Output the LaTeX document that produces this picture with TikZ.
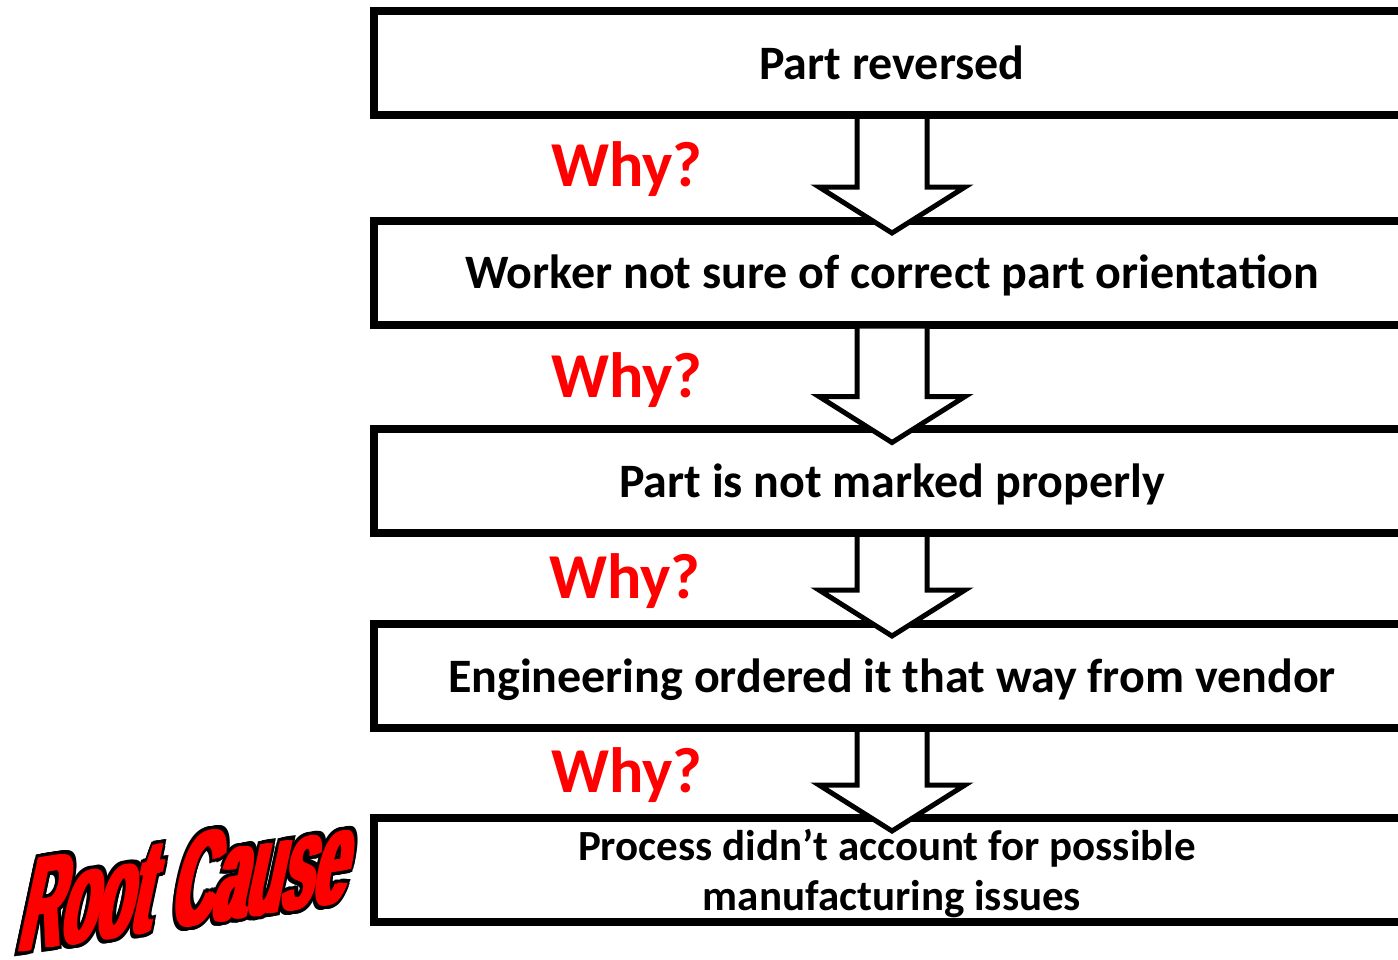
\documentclass[tikz,border=0pt]{standalone}
\usepackage{fontspec}
\setmainfont{Carlito}
\newfontfamily\rcfont{Liberation Sans}
\usetikzlibrary{calc}
\definecolor{whyred}{RGB}{255,0,0}
\newcommand\rcshift[3]{\makebox[0pt][l]{\hspace*{#1}\raisebox{#2}{\textcolor{#3}{Root\hspace{10pt} Cause}}}}
\newcommand\blockarrow[2]{%
  \coordinate (#1tl) at ($(#1.south)+(-35,0)$);
  \coordinate (#1tr) at ($(#1.south)+(35,0)$);
  \coordinate (#1sl) at ($(#1.south)+(-35,#2)$);
  \coordinate (#1sr) at ($(#1.south)+(35,#2)$);
  \coordinate (#1wl) at ($(#1.south)+(-73,#2)$);
  \coordinate (#1wr) at ($(#1.south)+(73,#2)$);
  \coordinate (#1tip) at ($(#1.south)+(0,#2+46)$);
  \fill[white] ($(#1tl)+(0,4)$) -- (#1sl) -- (#1wl) -- (#1tip) -- (#1wr) -- (#1sr) -- ($(#1tr)+(0,4)$) -- cycle;
  \draw[arrowline] (#1tl) -- (#1sl) -- (#1wl) -- (#1tip) -- (#1wr) -- (#1sr) -- (#1tr);
}
\begin{document}
\begin{tikzpicture}[x=1pt,y=-1pt,
  box/.style={draw=black, line width=8pt, minimum width=1036pt, inner sep=0pt, outer sep=0pt},
  arrowline/.style={draw=black, line width=5pt, miter limit=10, line join=miter},
  txt/.style={inner sep=0pt, font=\fontsize{48}{56}\selectfont\bfseries, anchor=base},
  why/.style={inner sep=0pt, font=\fontsize{64}{72}\selectfont\bfseries, text=whyred, anchor=base west},
  rc/.style={inner sep=0pt, anchor=base west, font=\rcfont\bfseries\fontsize{132}{132}\selectfont}]
\useasboundingbox (0,0) rectangle (1398,959);
\clip (0,0) rectangle (1398,959);
\fill[white] (0,0) rectangle (1398,959);
% boxes
\node[box, minimum height=104pt] (b1) at (892,63) {};
\node[box, minimum height=104pt] (b2) at (892,272.5) {};
\node[box, minimum height=104pt] (b3) at (892,481) {};
\node[box, minimum height=104.5pt] (b4) at (892,675.75) {};
\node[box, minimum height=104pt] (b5) at (892,870) {};
% arrows
\blockarrow{b1}{72}
\blockarrow{b2}{72}
\blockarrow{b3}{57}
\blockarrow{b4}{57}
% texts
\node[txt] (t1) at (892,79) {Part reversed};
\node[txt] (t2) at (892,288) {Worker not sure of correct part orientation};
\node[txt] (t3) at (892,497) {Part is not marked properly};
\node[txt] (t4) at (892,692) {Engineering ordered it that way from vendor};
\node[txt, font=\fontsize{43}{50}\selectfont\bfseries] (t5a) at (887,860) {Process didn’t account for possible};
\node[txt, font=\fontsize{43}{50}\selectfont\bfseries] (t5b) at (892,910) {manufacturing issues};
% why labels
\node[why] (w1) at (551,186) {Why?};
\node[why] (w2) at (551,397) {Why?};
\node[why] (w3) at (549,598) {Why?};
\node[why] (w4) at (551,792) {Why?};
% root cause
\node[rc, yslant=0.155, xslant=0.22, xscale=0.44] (rc) at (14,953) {%
  \foreach \dx in {-6,-3,...,18}{\foreach \dy in {-3.5,0,3.5}{\rcshift{\dx pt}{\dy pt}{black}}}%
  \foreach \dx in {0,3,...,12}{\rcshift{\dx pt}{0pt}{whyred}}%
  \phantom{Root\hspace{10pt} Cause}\hspace*{12pt}};
\end{tikzpicture}
\end{document}
